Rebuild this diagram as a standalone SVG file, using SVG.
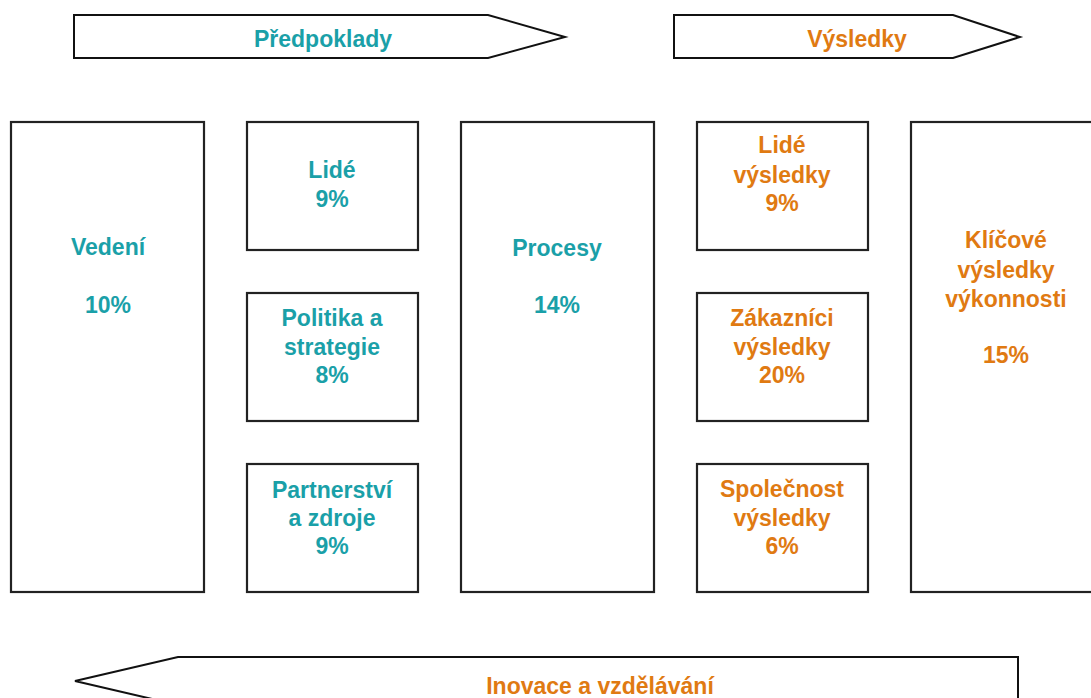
<svg xmlns="http://www.w3.org/2000/svg" width="1091" height="698" viewBox="0 0 1091 698">
<style>
.box{fill:#fff;stroke:#222;stroke-width:2.2}
.arr{fill:#fff;stroke:#111;stroke-width:2}
text{font-family:"Liberation Sans",Arial,sans-serif;font-weight:bold;font-size:23px;text-anchor:middle}
.t{fill:#1aa0a8}
.o{fill:#e07a12}
</style>
<rect width="1091" height="698" fill="#fff"/>
<g id="arrows">
<g id="predpoklady"><polygon class="arr" points="74,15 488,15 565,37 488,58 74,58"/><text class="t" x="323" y="47">Předpoklady</text></g>
<g id="vysledky"><polygon class="arr" points="674,15 953,15 1020,37 953,58 674,58"/><text class="o" x="857" y="47">Výsledky</text></g>
<g id="inovace"><polygon class="arr" points="1018,657 178,657 75,681 178,705 1018,705"/><text class="o" x="600" y="694">Inovace a vzdělávání</text></g>
</g>
<g id="vedeni"><rect class="box" x="11" y="122" width="193" height="470"/><text class="t" x="108" y="255">Vedení</text><text class="t" x="108" y="313">10%</text></g>
<g id="lide"><rect class="box" x="247" y="122" width="171" height="128"/><text class="t" x="332" y="178">Lidé</text><text class="t" x="332" y="207">9%</text></g>
<g id="politika"><rect class="box" x="247" y="293" width="171" height="128"/><text class="t" x="332" y="326">Politika a</text><text class="t" x="332" y="355">strategie</text><text class="t" x="332" y="383">8%</text></g>
<g id="partnerstvi"><rect class="box" x="247" y="464" width="171" height="128"/><text class="t" x="332" y="498">Partnerství</text><text class="t" x="332" y="526">a zdroje</text><text class="t" x="332" y="554">9%</text></g>
<g id="procesy"><rect class="box" x="461" y="122" width="193" height="470"/><text class="t" x="557" y="256">Procesy</text><text class="t" x="557" y="313">14%</text></g>
<g id="lide-vysledky"><rect class="box" x="697" y="122" width="171" height="128"/><text class="o" x="782" y="153">Lidé</text><text class="o" x="782" y="183">výsledky</text><text class="o" x="782" y="211">9%</text></g>
<g id="zakaznici"><rect class="box" x="697" y="293" width="171" height="128"/><text class="o" x="782" y="326">Zákazníci</text><text class="o" x="782" y="355">výsledky</text><text class="o" x="782" y="383">20%</text></g>
<g id="spolecnost"><rect class="box" x="697" y="464" width="171" height="128"/><text class="o" x="782" y="497">Společnost</text><text class="o" x="782" y="526">výsledky</text><text class="o" x="782" y="554">6%</text></g>
<g id="klicove"><rect class="box" x="911" y="122" width="190" height="470"/><text class="o" x="1006" y="248">Klíčové</text><text class="o" x="1006" y="278">výsledky</text><text class="o" x="1006" y="307">výkonnosti</text><text class="o" x="1006" y="363">15%</text></g>
</svg>
